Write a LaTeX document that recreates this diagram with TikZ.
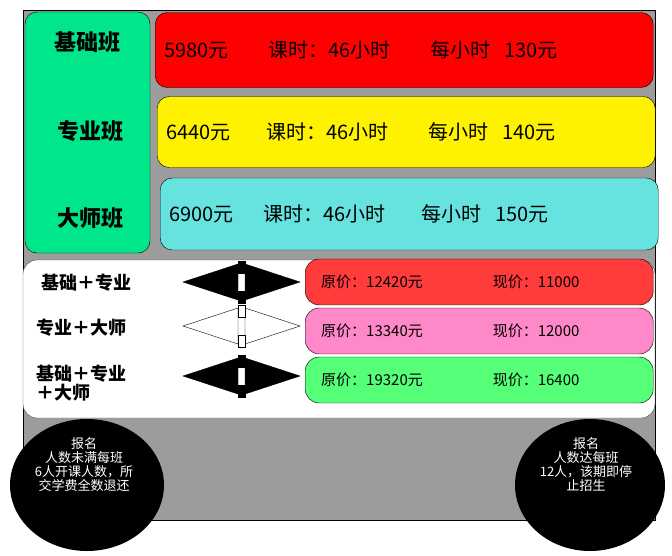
\documentclass[tikz,border=0pt]{standalone}
\usepackage{fontspec}
\setmainfont{Noto Sans CJK SC}
\usetikzlibrary{positioning}
\definecolor{panelgrey}{HTML}{9C9C9C}
\definecolor{levelgreen}{HTML}{00E68A}
\definecolor{levelcyan}{HTML}{66E3DF}
\definecolor{pillred}{HTML}{FF3B3B}
\definecolor{pillpink}{HTML}{FF88C8}
\definecolor{pillgreen}{HTML}{55FF77}
\tikzset{
  bar/.style={draw,rounded corners=12pt,minimum height=#1pt,anchor=west,text width=480pt,inner sep=9pt,font=\fontsize{20}{22}\selectfont},
  pill/.style={draw,rounded corners=14pt,minimum width=348pt,minimum height=40pt,anchor=west,text width=316pt,inner sep=16pt,font=\fontsize{15}{17}\selectfont},
  combo/.style={font=\bfseries\fontsize{18}{19}\selectfont,align=left,anchor=west},
  level/.style={font=\bfseries\fontsize{22}{24}\selectfont},
  notice/.style={text=white,align=center,font=\fontsize{13}{14}\selectfont}
}
\newcommand{\twoway}[3]{%
  \filldraw[fill=#3] (#1,#2) -- ++(55,-18) -- ++(0,36) -- cycle;
  \filldraw[fill=#3] (#1+117,#2) -- ++(-55,-18) -- ++(0,36) -- cycle;
  \filldraw[fill=#3] (#1+55,#2-21) rectangle ++(7,12);
  \filldraw[fill=#3] (#1+55,#2+21) rectangle ++(7,-12);}
\begin{document}
\begin{tikzpicture}[x=1pt,y=-1pt]
\useasboundingbox (0,0) rectangle (672,555);
% backdrop
\filldraw[fill=panelgrey] (23,10) rectangle (655,520);
\filldraw[fill=levelgreen,rounded corners=12pt] (25,12) rectangle (150,253);
\node[level] (base) at (87,42) {基础班};
\node[level] (major) at (90,131) {专业班};
\node[level] (master) at (90,218) {大师班};
% price bars
\node[bar=75,fill=red] (barbase) at (155,50) {5980元\hspace{40pt}课时：46小时\hspace{40pt}每小时 \ 130元};
\node[bar=71,fill=yellow] (barmajor) at (157,132) {6440元\hspace{36pt}课时：46小时\hspace{40pt}每小时 \ 140元};
\node[bar=72,fill=levelcyan] (barmaster) at (160,214) {6900元\hspace{30pt}课时：46小时\hspace{36pt}每小时 \ 150元};
% packages
\filldraw[fill=white,draw=black!70,rounded corners=14pt] (23,260) rectangle (655,418);
\node[combo] (c1) at (38,283) {基础＋专业};
\node[combo] (c2) at (33,328) {专业＋大师};
\node[combo] (c3) at (33,383) {基础＋专业\\ ＋大师};
\twoway{183}{282}{black}
\twoway{183}{326}{white}
\twoway{183}{376}{black}
\node[pill,fill=pillred] (p1) at (305,282) {原价：12420元\hspace{70pt}现价：11000};
\node[pill,fill=pillpink] (p2) at (305,331) {原价：13340元\hspace{70pt}现价：12000};
\node[pill,fill=pillgreen] (p3) at (305,380) {原价：19320元\hspace{70pt}现价：16400};
% notices
\fill (87,485) ellipse (77 and 66);
\node[notice] (low) at (84,465) {报名\\人数未满每班\\6人开课人数，所\\交学费全数退还};
\fill (590,485) ellipse (75 and 66);
\node[notice] (full) at (586,465) {报名\\人数达每班\\12人，该期即停\\止招生};
\end{tikzpicture}
\end{document}
